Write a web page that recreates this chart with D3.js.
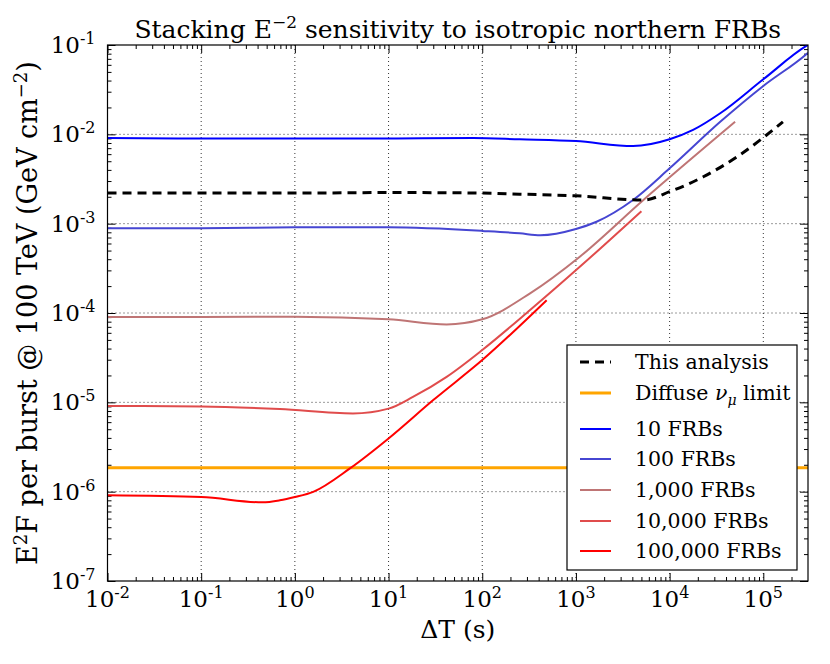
<!DOCTYPE html>
<html>
<head>
<meta charset="utf-8">
<script src="https://cdn.jsdelivr.net/npm/d3@7"></script>
<style>
  body { margin: 0; background: #fff; }
  text { font-family: 'DejaVu Serif', serif; fill: #000; }
</style>
</head>
<body>
<svg id="chart" width="830" height="664"></svg>
<script>
// values (time in s, E^2F in GeV cm^-2)
const analysisT = [0.01, 0.1, 1, 10, 100, 251, 1000, 5250, 10000, 22900, 52500, 162000];
const analysisV = [2.2e-3, 2.2e-3, 2.2e-3, 2.23e-3, 2.2e-3, 2.14e-3, 2.05e-3, 1.84e-3, 2.28e-3, 3.35e-3, 5.6e-3, 1.38e-2];

const diffuseLimit = 1.85e-6;

const frb10T = [0.01, 0.1, 1, 10, 80, 251, 1000, 4070, 10000, 17800, 34700, 100000, 288000, 300000];
const frb10V = [9.1e-3, 9.0e-3, 9.0e-3, 9.0e-3, 9.1e-3, 8.8e-3, 8.4e-3, 7.4e-3, 8.8e-3, 1.12e-2, 1.72e-2, 4.13e-2, 9.75e-2, 0.1];

const frb100T = [0.01, 0.1, 1, 10, 100, 251, 417, 1000, 1660, 4070, 10000, 34700, 100000, 288000, 300000];
const frb100V = [8.9e-4, 8.9e-4, 9.1e-4, 9.1e-4, 8.3e-4, 7.8e-4, 7.4e-4, 8.7e-4, 1.05e-3, 1.84e-3, 4.16e-3, 1.38e-2, 3.48e-2, 7.9e-2, 8.2e-2];

const frb1kT = [0.01, 0.1, 1, 10, 41.7, 100, 324, 1100, 5250, 50000];
const frb1kV = [9.0e-5, 9.0e-5, 9.1e-5, 8.5e-5, 7.45e-5, 8.5e-5, 1.66e-4, 4.27e-4, 1.84e-3, 1.38e-2];

const frb10kT = [0.01, 0.1, 0.69, 4.17, 10, 18.2, 41.7, 100, 324, 1100, 5000];
const frb10kV = [9.1e-6, 9.0e-6, 8.4e-6, 7.5e-6, 8.5e-6, 1.15e-5, 1.93e-5, 3.85e-5, 1.08e-4, 3.29e-4, 1.38e-3];

const frb100kT = [0.01, 0.1, 0.45, 0.69, 1.0, 1.57, 3.87, 10, 30, 100, 487];
const frb100kV = [9.1e-7, 8.7e-7, 7.6e-7, 8.0e-7, 8.7e-7, 9.95e-7, 1.82e-6, 3.94e-6, 1.06e-5, 2.97e-5, 1.39e-4];

const xTicks = [-2, -1, 0, 1, 2, 3, 4, 5];
const yTicks = [-7, -6, -5, -4, -3, -2, -1];

const legendLabels = ['This analysis', 'Diffuse', '10 FRBs', '100 FRBs', '1,000 FRBs', '10,000 FRBs', '100,000 FRBs'];
const frbColors = ['#0000ff', '#4646d2', '#bf7575', '#e04c4c', '#ff0000'];

const margin = {left: 107.5, right: 22, top: 45, bottom: 83};
const width = 830 - margin.left - margin.right;
const height = 664 - margin.top - margin.bottom;

const svg = d3.select('#chart');
const g = svg.append('g').attr('transform', 'translate(' + margin.left + ',' + margin.top + ')');

const x = d3.scaleLog().domain([0.01, 3e5]).range([0, width]);
const y = d3.scaleLog().domain([1e-7, 0.1]).range([height, 0]);

g.append('clipPath').attr('id', 'clip')
    .append('rect').attr('width', width).attr('height', height);

// grid
const grid = g.append('g').attr('class', 'grid');
xTicks.slice(1).forEach((p) => {
    grid.append('line')
        .attr('x1', x(Math.pow(10, p))).attr('x2', x(Math.pow(10, p)))
        .attr('y1', 0).attr('y2', height);
});
yTicks.slice(1, -1).forEach((p) => {
    grid.append('line')
        .attr('y1', y(Math.pow(10, p))).attr('y2', y(Math.pow(10, p)))
        .attr('x1', 0).attr('x2', width);
});
grid.selectAll('line')
    .attr('stroke', '#000')
    .attr('stroke-width', 0.8)
    .attr('stroke-dasharray', '1,3');

// minor tick values
const minorOf = (domain) => {
    const out = [];
    for (let p = Math.floor(Math.log10(domain[0])); p <= Math.ceil(Math.log10(domain[1])); p++) {
        for (let m = 2; m < 10; m++) {
            const v = m * Math.pow(10, p);
            if (v > domain[0] && v < domain[1]) out.push(v);
        }
    }
    return out;
};
const xMajor = xTicks.map((p) => Math.pow(10, p));
const yMajor = yTicks.map((p) => Math.pow(10, p));

const addAxis = (axisFn, scale, values, size, transform) => {
    const a = g.append('g').attr('transform', transform)
        .call(axisFn(scale).tickValues(values).tickSize(size).tickFormat(''));
    a.select('.domain').remove();
    a.selectAll('line').attr('stroke', '#000').attr('stroke-width', 1);
};
// inward ticks on all four sides
addAxis(d3.axisBottom, x, xMajor, -8, 'translate(0,' + height + ')');
addAxis(d3.axisBottom, x, minorOf(x.domain()), -4, 'translate(0,' + height + ')');
addAxis(d3.axisTop, x, xMajor, -8, 'translate(0,0)');
addAxis(d3.axisTop, x, minorOf(x.domain()), -4, 'translate(0,0)');
addAxis(d3.axisLeft, y, yMajor, -8, 'translate(0,0)');
addAxis(d3.axisLeft, y, minorOf(y.domain()), -4, 'translate(0,0)');
addAxis(d3.axisRight, y, yMajor, -8, 'translate(' + width + ',0)');
addAxis(d3.axisRight, y, minorOf(y.domain()), -4, 'translate(' + width + ',0)');

// tick labels with superscripts
xTicks.forEach((p) => {
    const t = g.append('text')
        .attr('x', x(Math.pow(10, p)))
        .attr('y', height + 26)
        .attr('text-anchor', 'middle')
        .style('font-size', '23px');
    t.append('tspan').text('10');
    t.append('tspan').attr('dy', -9).style('font-size', '16px').text(String(p));
});
yTicks.forEach((p) => {
    const t = g.append('text')
        .attr('x', -12)
        .attr('y', y(Math.pow(10, p)) + 8)
        .attr('text-anchor', 'end')
        .style('font-size', '23px');
    t.append('tspan').text('10');
    t.append('tspan').attr('dy', -9).style('font-size', '16px').text(String(p));
});

// lines
const line = d3.line()
    .x((d) => x(d[0]))
    .y((d) => y(d[1]))
    .curve(d3.curveMonotoneX);
const zip = (ts, vs) => ts.map((t, i) => [t, vs[i]]);

const plot = g.append('g').attr('clip-path', 'url(#clip)');

plot.append('path')
    .datum(zip([0.01, 3e5], [diffuseLimit, diffuseLimit]))
    .attr('d', line)
    .attr('fill', 'none')
    .attr('stroke', '#ffa500')
    .attr('stroke-width', 3);

const frbSeries = [
    zip(frb10T, frb10V),
    zip(frb100T, frb100V),
    zip(frb1kT, frb1kV),
    zip(frb10kT, frb10kV),
    zip(frb100kT, frb100kV)
];
frbSeries.forEach((s, i) => {
    plot.append('path')
        .datum(s)
        .attr('d', line)
        .attr('fill', 'none')
        .attr('stroke', frbColors[i])
        .attr('stroke-width', 2);
});

plot.append('path')
    .datum(zip(analysisT, analysisV))
    .attr('d', line)
    .attr('fill', 'none')
    .attr('stroke', '#000')
    .attr('stroke-width', 3)
    .attr('stroke-dasharray', '9,6');

// frame
g.append('rect')
    .attr('width', width).attr('height', height)
    .attr('fill', 'none').attr('stroke', '#000').attr('stroke-width', 1.2);

// legend
const legend = g.append('g').attr('transform', 'translate(' + (567 - margin.left) + ',' + (345 - margin.top) + ')');
legend.append('rect')
    .attr('width', 230).attr('height', 225)
    .attr('fill', '#fff').attr('stroke', '#000').attr('stroke-width', 1.2);
const rowY = [17, 48, 84, 114, 145, 176, 206];
const legendStyles = [
    {c: '#000', w: 3, dash: '9,6'},
    {c: '#ffa500', w: 3, dash: null}
].concat(frbColors.map((c) => ({c: c, w: 2, dash: null})));
legendLabels.forEach((lab, i) => {
    legend.append('line')
        .attr('x1', 13).attr('x2', 44)
        .attr('y1', rowY[i]).attr('y2', rowY[i])
        .attr('stroke', legendStyles[i].c)
        .attr('stroke-width', legendStyles[i].w)
        .attr('stroke-dasharray', legendStyles[i].dash);
    const t = legend.append('text')
        .attr('x', 68).attr('y', rowY[i] + 7)
        .style('font-size', '20.5px');
    if (i === 1) {
        t.append('tspan').text('Diffuse ');
        t.append('tspan').style('font-style', 'italic').text('\u03bd');
        t.append('tspan').attr('dy', 5).style('font-size', '14px').style('font-style', 'italic').text('\u03bc');
        t.append('tspan').attr('dy', -5).text(' limit');
    } else {
        t.text(lab);
    }
});

// title
const title = svg.append('text')
    .attr('x', margin.left + width / 2)
    .attr('y', 38)
    .attr('text-anchor', 'middle')
    .style('font-size', '25px');
title.append('tspan').text('Stacking E');
title.append('tspan').attr('dy', -10).style('font-size', '17px').text('\u22122');
title.append('tspan').attr('dy', 10).text(' sensitivity to isotropic northern FRBs');

// axis labels
svg.append('text')
    .attr('x', margin.left + width / 2)
    .attr('y', 638)
    .attr('text-anchor', 'middle')
    .style('font-size', '25px')
    .text('\u0394T (s)');

const yl = svg.append('text')
    .attr('transform', 'translate(37,' + (margin.top + height / 2) + ') rotate(-90)')
    .attr('text-anchor', 'middle')
    .style('font-size', '27px');
yl.append('tspan').text('E');
yl.append('tspan').attr('dy', -10).style('font-size', '18px').text('2');
yl.append('tspan').attr('dy', 10).text('F per burst @ 100 TeV (GeV cm');
yl.append('tspan').attr('dy', -10).style('font-size', '18px').text('\u22122');
yl.append('tspan').attr('dy', 10).text(')');
</script>
</body>
</html>
